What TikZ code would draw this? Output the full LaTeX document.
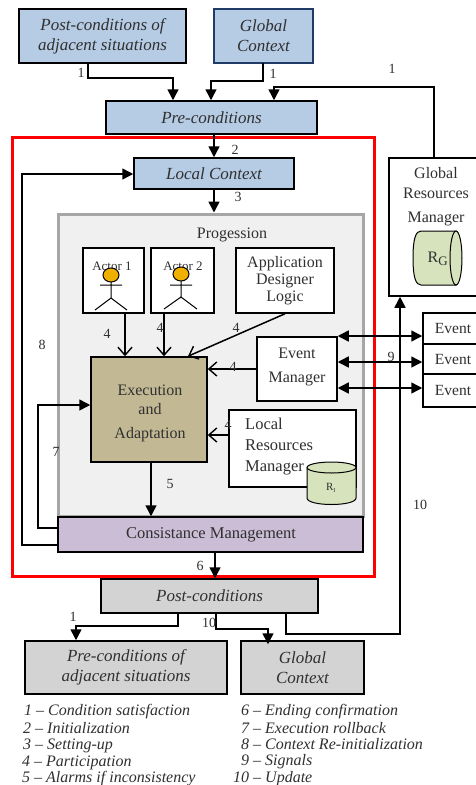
\documentclass[tikz,border=0pt]{standalone}
\usepackage{fontspec}
\setmainfont{Liberation Serif}
\usetikzlibrary{arrows.meta,positioning,calc}
\definecolor{blueb}{HTML}{B6CBE4}
\definecolor{navyb}{HTML}{1F3B66}
\definecolor{greyb}{HTML}{D3D3D3}
\definecolor{khaki}{HTML}{C2B994}
\definecolor{lilac}{HTML}{CBBDD6}
\definecolor{cylg}{HTML}{D7E3BC}
\definecolor{head}{HTML}{F0B000}
\definecolor{progf}{HTML}{F0F0F0}
\definecolor{progl}{HTML}{A6A6A6}
\definecolor{inkt}{HTML}{303030}
\tikzset{
 x=1pt,y=-1pt,
 boxn/.style={draw=black,line width=1.5pt,inner sep=0pt,align=center,text=inkt,font=\fontsize{16}{20}\selectfont},
 bluebox/.style={boxn,fill=blueb,font=\fontsize{17}{20}\selectfont\itshape},
 greybox/.style={boxn,fill=greyb,font=\fontsize{17}{20}\selectfont\itshape},
 whitebox/.style={boxn,fill=white},
 conn/.style={draw=black,line width=1.5pt,-{Triangle[length=11pt,width=11pt]}},
 openconn/.style={draw=black,line width=1.5pt,-{Straight Barb[length=8pt,width=14pt,line width=1.4pt]}},
 dblconn/.style={draw=black,line width=1.5pt,{Triangle[length=11pt,width=11pt]}-{Triangle[length=11pt,width=11pt]}},
 lab/.style={inner sep=0pt,text=inkt,font=\fontsize{14}{16}\selectfont},
 legend/.style={inner sep=0pt,anchor=west,text=inkt,font=\fontsize{16}{17}\selectfont\itshape},
 limb/.style={draw=black,line width=1pt},
 cyl/.style={draw=black,line width=1pt,fill=cylg},
}
\newcommand{\bx}[6]{\node[#1,minimum width=#4-#3,minimum height=#6-#5] (#2) at ({(#3+#4)/2},{(#5+#6)/2})}
\begin{document}
\begin{tikzpicture}
\useasboundingbox (0,0) rectangle (476,785);
\fill[white] (0,0) rectangle (476,785);
% frames
\draw[draw=red,line width=3pt] (12,137) rectangle (374,576);
\node[draw=progl,fill=progf,line width=3pt,minimum width=305pt,minimum height=302pt,inner sep=0pt] (prog) at (210.5,365) {};
\node[lab,font=\fontsize{16}{18}\selectfont] (progt) at (232,235) {Progession};
% boxes
\bx{bluebox}{pcadj}{19}{186}{9}{63} {Post-conditions of\\adjacent situations};
\bx{bluebox,draw=navyb}{gc}{214}{313}{9}{63} {Global\\Context};
\bx{bluebox}{pre}{106}{317}{101}{134} {Pre-conditions};
\bx{bluebox}{loc}{134}{294}{158}{189} {Local Context};
\bx{whitebox}{aone}{83}{144}{248}{313} {};
\bx{whitebox}{atwo}{151}{214}{248}{313} {};
\bx{whitebox,font=\fontsize{16}{17}\selectfont}{app}{236}{334}{248}{313} {Application\\Designer\\Logic};
\bx{boxn,fill=khaki}{exec}{91}{207}{357}{462} {};
\node[lab,align=center,font=\fontsize{16}{24}\selectfont] (exect) at (150,413) {Execution\\[-5pt]and\\Adaptation};
\bx{whitebox}{evm}{257}{337}{337}{401} {};
\node[lab,align=center,font=\fontsize{16}{24}\selectfont] (evmt) at (297,367) {Event\\Manager};
\bx{whitebox}{lrm}{229}{356}{410}{487} {};
\node[lab,anchor=north west,align=left,font=\fontsize{16.5}{21}\selectfont] (lrmt) at (245,418) {Local\\Resources\\Manager};
\bx{boxn,fill=lilac}{cons}{58}{363}{517}{552} {};
\node[lab,font=\fontsize{16.5}{18}\selectfont] (const) at (211,535) {Consistance Management};
\bx{greybox}{post}{101}{318}{579}{613} {Post-conditions};
\bx{greybox}{preadj}{25}{227}{641}{694} {Pre-conditions of\\adjacent situations};
\bx{greybox}{gctx}{241}{364}{641}{694} {Global\\Context};
\bx{whitebox}{grm}{389}{490}{158}{296} {};
\node[lab,align=center,font=\fontsize{16}{20}\selectfont] (grmt) at (436,197) {Global\\Resources\\[4pt]Manager};
\bx{whitebox}{ea}{423}{490}{313}{344} {};
\bx{whitebox}{eb}{423}{490}{344}{374} {};
\bx{whitebox}{ec}{423}{490}{374}{407} {};
\node[lab,font=\fontsize{15.5}{17}\selectfont] (eat) at (453,328) {Event};
\node[lab,font=\fontsize{15.5}{17}\selectfont] (ebt) at (453,359) {Event};
\node[lab,font=\fontsize{15.5}{17}\selectfont] (ect) at (453,390) {Event};
% global cylinder
\draw[cyl] (421,231) -- (456,231) -- (456,285) -- (421,285)
  .. controls (416,285) and (413,278) .. (413,258) .. controls (413,238) and (416,231) .. (421,231) -- cycle;
\draw[cyl] (456,258) ellipse[x radius=6,y radius=27];
\node[lab,font=\fontsize{16}{18}\selectfont] (rg) at (438,259) {R\textsubscript{\fontsize{13}{14}\selectfont G}};
% local cylinder
\draw[cyl] (307,468) -- (307,498) .. controls (307,502) and (318,504.5) .. (331.5,504.5) .. controls (345,504.5) and (356,502) .. (356,498) -- (356,468) -- cycle;
\draw[cyl] (331.5,467.5) ellipse[x radius=24.5,y radius=5.5];
\node[lab,font=\fontsize{11}{12}\selectfont] (rl) at (331,488) {R\textsubscript{\fontsize{6}{7}\selectfont I}};
% actors
\node[lab,font=\fontsize{13}{14}\selectfont] (aonet) at (112,266) {Actor 1};
\node[lab,font=\fontsize{13}{14}\selectfont] (atwot) at (183,266) {Actor 2};
\draw[limb] (100,285) -- (122,285) (111,282) -- (111,298) (95,310) -- (111,298) -- (127,310);
\draw[limb,fill=head] (111,275) ellipse[x radius=8,y radius=7];
\draw[limb] (170,285) -- (192,285) (181,281) -- (181,298) (164,309) -- (181,297) -- (197,309);
\draw[limb,fill=head] (181,274) ellipse[x radius=8,y radius=7];
% helper points
\coordinate (p1) at (88,63); \coordinate (p2) at (173,78);
\coordinate (g1) at (263,63); \coordinate (g2) at (211,81);
\coordinate (r1) at (434,158); \coordinate (r2) at (274,87);
\coordinate (c1) at (58,545); \coordinate (c2) at (22,174);
\coordinate (c3) at (58,528); \coordinate (c4) at (38,405);
\coordinate (u1) at (286,613); \coordinate (u2) at (400,634);
\coordinate (d1) at (178,613); \coordinate (d2) at (76,626);
\coordinate (f1) at (216,613); \coordinate (f2) at (268,629);
% connectors
\draw[conn] (p1) |- (p2) -- (p2 |- pre.north);
\draw[conn] (g1) |- (g2) -- (g2 |- pre.north);
\draw[conn] (r1) |- (r2) -- (r2 |- pre.north);
\draw[conn] (pre.south -| 214,0) -- (loc.north -| 214,0);
\draw[conn] (loc.south -| 214,0) -- (prog.north -| 214,0);
\draw[conn] (c1) -| (c2) -- (loc.west |- c2);
\draw[conn] (c3) -| (c4) -- (exec.west |- c4);
\draw[conn] (exec.south -| 151,0) -- (cons.north -| 151,0);
\draw[openconn] (aone.south -| 125,0) -- (exec.north -| 125,0);
\draw[openconn] (atwo.south -| 164,0) -- (exec.north -| 164,0);
\draw[openconn] (app.south) -- (exec.north -| 188,0);
\draw[openconn] (evm.west |- 0,369) -- (exec.east |- 0,369);
\draw[openconn] (lrm.west |- 0,435) -- (exec.east |- 0,435);
\draw[dblconn] (evm.east |- 0,336) -- (ea.west |- 0,336);
\draw[dblconn] (evm.east |- 0,362) -- (eb.west |- 0,362);
\draw[dblconn] (evm.east |- 0,388) -- (ec.west |- 0,388);
\draw[conn] (u1) |- (u2) -- (grm.south -| u2);
\draw[conn] (cons.south -| 215,0) -- (post.north -| 215,0);
\draw[conn] (d1) |- (d2) -- (preadj.north -| d2);
\draw[conn] (f1) |- (f2) -- ($(gctx.north -| f2)+(0,4)$);
% number labels
\node[lab] (n1) at (81,73) {1};
\node[lab] (n2) at (273,74) {1};
\node[lab] (n3) at (392,69) {1};
\node[lab] (n4) at (235,150) {2};
\node[lab] (n5) at (238,197) {3};
\node[lab] (n6) at (42,345) {8};
\node[lab] (n7) at (107,334) {4};
\node[lab] (n8) at (160,328) {4};
\node[lab] (n9) at (236,328) {4};
\node[lab] (n10) at (233,367) {4};
\node[lab] (n11) at (391,357) {9};
\node[lab] (n12) at (228,425) {4};
\node[lab] (n13) at (56,452) {7};
\node[lab] (n14) at (170,484) {5};
\node[lab] (n15) at (420,505) {10};
\node[lab] (n16) at (200,566) {6};
\node[lab] (n17) at (73,617) {1};
\node[lab] (n18) at (209,623) {10};
% legend
\node[legend] (l1) at (24,711.5) {1 – Condition satisfaction};
\node[legend] (l2) at (23,728.5) {2 – Initialization};
\node[legend] (l3) at (23,746) {3 – Setting-up};
\node[legend] (l4) at (22,762.5) {4 – Participation};
\node[legend] (l5) at (22,779) {5 – Alarms if inconsistency};
\node[legend] (r6) at (241,711.5) {6 – Ending confirmation};
\node[legend] (r7) at (241,728.5) {7 – Execution rollback};
\node[legend] (r8) at (241,744.5) {8 – Context Re-initialization};
\node[legend] (r9) at (241,761.5) {9 – Signals};
\node[legend] (r10) at (233,778.5) {10 – Update};
\end{tikzpicture}
\end{document}
